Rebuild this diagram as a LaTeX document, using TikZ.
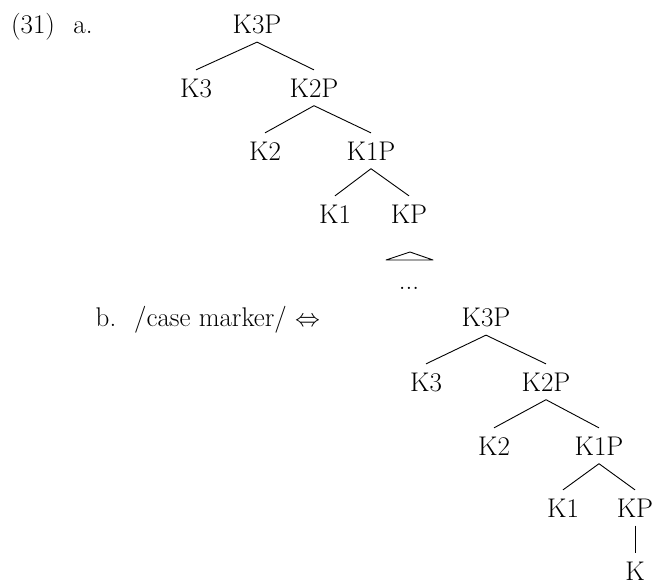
\documentclass[tikz,border=0pt]{standalone}
\usepackage{amssymb}
\begin{document}
\begin{tikzpicture}[x=1pt,y=-1pt,
  lbl/.style={anchor=base,inner sep=0pt,font=\fontsize{27}{30}\selectfont},
  tn/.style={inner sep=8.5pt,font=\fontsize{27}{30}\selectfont},
  br/.style={line width=0.9pt}]
\useasboundingbox (0,0) rectangle (653,587);
% (a)
\node[lbl] (num) at (33,33) {(31)};
\node[lbl] (la) at (83,33) {a.};
\node[tn,anchor=base] (a3p) at (257,33) {K3P};
\node[tn,anchor=base] (a3) at (196,97) {K3};
\node[tn,anchor=base] (a2p) at (314,97) {K2P};
\node[tn,anchor=base] (a2) at (265,160) {K2};
\node[tn,anchor=base] (a1p) at (371,160) {K1P};
\node[tn,anchor=base] (a1) at (335,223) {K1};
\node[tn,anchor=base] (akp) at (409,223) {KP};
\coordinate (tt) at (410,252);
\coordinate (tl) at (386,260);
\coordinate (tr) at (433,260);
\node[lbl] (dots) at (409,289) {...};
\draw[br] (a3p.south) -- (a3.north);
\draw[br] (a3p.south) -- (a2p.north);
\draw[br] (a2p.south) -- (a2.north);
\draw[br] (a2p.south) -- (a1p.north);
\draw[br] (a1p.south) -- (a1.north);
\draw[br] (a1p.south) -- (akp.north);
\draw[br,line join=round] (tl) -- (tt) -- (tr) -- cycle;
% (b)
\node[lbl] (lb) at (106,326) {b.};
\node[lbl,anchor=base west] (cm) at (134,326) {/case marker/ $\Leftrightarrow$};
\node[tn,anchor=base] (b3p) at (486,326) {K3P};
\node[tn,anchor=base] (b3) at (426,391) {K3};
\node[tn,anchor=base] (b2p) at (546,391) {K2P};
\node[tn,anchor=base] (b2) at (494,455) {K2};
\node[tn,anchor=base] (b1p) at (599,455) {K1P};
\node[tn,anchor=base] (b1) at (563,517) {K1};
\node[tn,anchor=base] (bkp) at (635,517) {KP};
\node[tn,anchor=base] (bk) at (635,580) {K};
\draw[br] (b3p.south) -- (b3.north);
\draw[br] (b3p.south) -- (b2p.north);
\draw[br] (b2p.south) -- (b2.north);
\draw[br] (b2p.south) -- (b1p.north);
\draw[br] (b1p.south) -- (b1.north);
\draw[br] (b1p.south) -- (bkp.north);
\draw[br] (bkp.south) -- (bk.north);
\end{tikzpicture}
\end{document}
